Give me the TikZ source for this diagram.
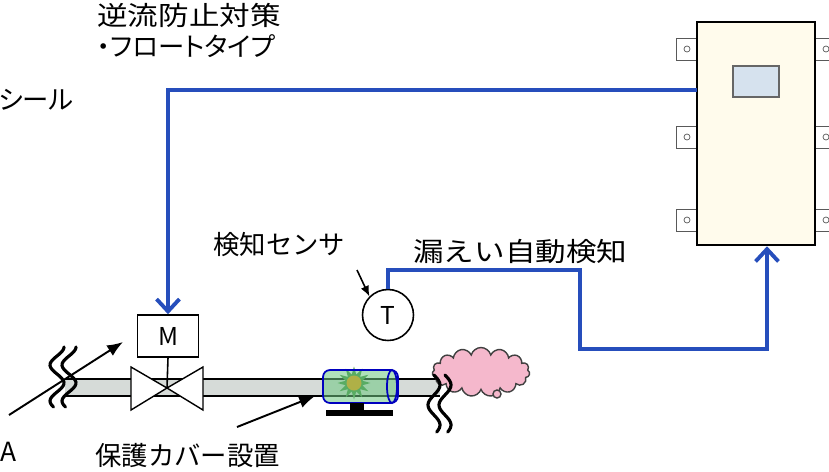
\documentclass[tikz,border=0pt]{standalone}
\usepackage{fontspec}
\setmainfont{Noto Sans CJK JP}
\newfontfamily\widefont[FakeStretch=1.16]{Noto Sans CJK JP}
\newfontfamily\paltfont[RawFeature=+palt]{Noto Sans CJK JP}
\usetikzlibrary{arrows.meta,positioning,shapes.geometric,shapes.symbols}
\definecolor{sigblue}{RGB}{38,78,188}
\definecolor{panel}{RGB}{255,251,236}
\definecolor{glass}{RGB}{214,226,238}
\definecolor{pipegray}{RGB}{214,219,216}
\definecolor{leakpink}{RGB}{245,184,204}
\definecolor{covergreen}{RGB}{110,200,130}
\tikzset{
  txt/.style={font=\fontsize{15}{18}\selectfont, inner sep=0pt},
  signal/.style={draw=sigblue, line width=2.2pt, -{Straight Barb[length=7pt,width=13pt,line width=2.2pt]}},
  pointer/.style={line width=1.1pt, -{Latex[length=9pt,width=7pt]}},
  squiggle/.style={line width=1.8pt, line cap=round, smooth, samples=30},
}
\begin{document}
\begin{tikzpicture}[x=0.02cm, y=-0.02cm]
  \useasboundingbox (0,0) rectangle (829,471);

  % texts
  \node[txt, anchor=west] (backflow) at (97,15) {\widefont 逆流防止対策};
  \node[txt, anchor=west] (floattype) at (97,46) {\paltfont ・フロートタイプ};
  \node[txt, anchor=west] (seal) at (-2,100) {\paltfont シール};
  \node[txt, anchor=west] (sensetxt) at (213,245) {検知センサ};
  \node[txt, anchor=west] (leaktxt) at (413,252) {\widefont 漏えい自動検知};
  \node[txt, anchor=west] (covertxt) at (95,455) {保護カバー設置};
  \node[txt, anchor=west] (atxt) at (0,452) {A};

  % control panel with its mounting tabs
  \foreach \y in {49,137,220}{
      \draw[black!65, fill=white] (676,\y-11) rectangle (836,\y+11);
      \draw[black!65] (687,\y) circle[radius=0.06cm] (826,\y) circle[radius=0.06cm];
  }
  \node[draw, line width=1.5pt, fill=panel, minimum width=2.36cm, minimum height=4.46cm] (panel) at (756,133.5) {};
  \node[draw=black!60, line width=0.8pt, fill=glass, minimum width=0.92cm, minimum height=0.62cm] (screen) at (756,81.5) {};

  % pipe run
  \begin{scope}
    \fill[pipegray] (65,379) rectangle (440,396);
    \draw[line width=1.6pt] (65,379) -- (440,379);
    \draw[line width=1.6pt] (65,396) -- (440,396);
  \end{scope}

  % motor valve
  \coordinate (valve) at (167,388);
  \node[draw, line width=0.9pt, fill=white, minimum width=1.22cm, minimum height=0.84cm, font=\fontsize{14}{16}\selectfont] (motor) at (168,336) {M};
  \filldraw[fill=white, line width=0.8pt] (131,367) -- (131,410) -- (valve) -- cycle;
  \filldraw[fill=white, line width=0.8pt] (203,367) -- (203,410) -- (valve) -- cycle;
  \draw[line width=0.9pt] (motor.south) -- (valve);

  % protection cover on the pipe
  \node[star, star points=12, star point ratio=1.9, fill=green!40!black!75, minimum size=0.66cm, inner sep=0pt] (burst) at (354,383) {};
  \fill[orange!85!yellow] (burst) circle[radius=0.15cm];
  \filldraw[draw=blue!75!black, fill=covergreen, fill opacity=0.55, line width=1pt, rounded corners=4pt] (323,370) rectangle (398,403);
  \draw[blue!75!black, line width=1pt] (392,386.5) ellipse[x radius=0.1cm, y radius=0.33cm];
  \fill (350,403) rectangle (364,412);
  \draw[line width=3pt] (326,413) -- (393,413);

  % leak
  \node[cloud, cloud puffs=15, aspect=2.2, draw=black!75, line width=0.8pt, fill=leakpink, minimum width=1.95cm, minimum height=0.98cm] (leak) at (481,372) {};
  \draw[black!75, line width=0.8pt, fill=leakpink] (497,394) circle[radius=0.08cm];

  % pipe breaks
  \foreach \x in {57,69}{
      \draw[squiggle] plot[domain=0:60, variable=\t] ({\x+7*cos(\t*10)}, {347+\t});
  }
  \foreach \x in {434,445}{
      \draw[squiggle] plot[domain=0:57, variable=\t] ({\x+6*sin(\t*9)}, {375+\t});
  }

  % temperature sensor
  \node[draw, circle, line width=0.9pt, fill=white, minimum size=1.02cm, inner sep=0pt, font=\fontsize{14}{16}\selectfont] (sensor) at (388,315) {T};

  % signal lines
  \coordinate (tap) at (697,90);
  \draw[signal] (tap) -| (motor.north);
  \draw[signal] (sensor.north) |- (580,270) -- (580,349) -| ([xshift=0.22cm]panel.south);

  % pointers
  \coordinate (afrom) at (9,415);
  \coordinate (ato) at (123,342);
  \draw[pointer] (afrom) -- (ato);
  \coordinate (cfrom) at (237,427);
  \draw[pointer] (cfrom) -- (315,396);
  \coordinate (sfrom) at (357,270);
  \draw[line width=0.9pt, -{Latex[length=6pt,width=5pt]}] (sfrom) -- (sensor.north west);
\end{tikzpicture}
\end{document}
